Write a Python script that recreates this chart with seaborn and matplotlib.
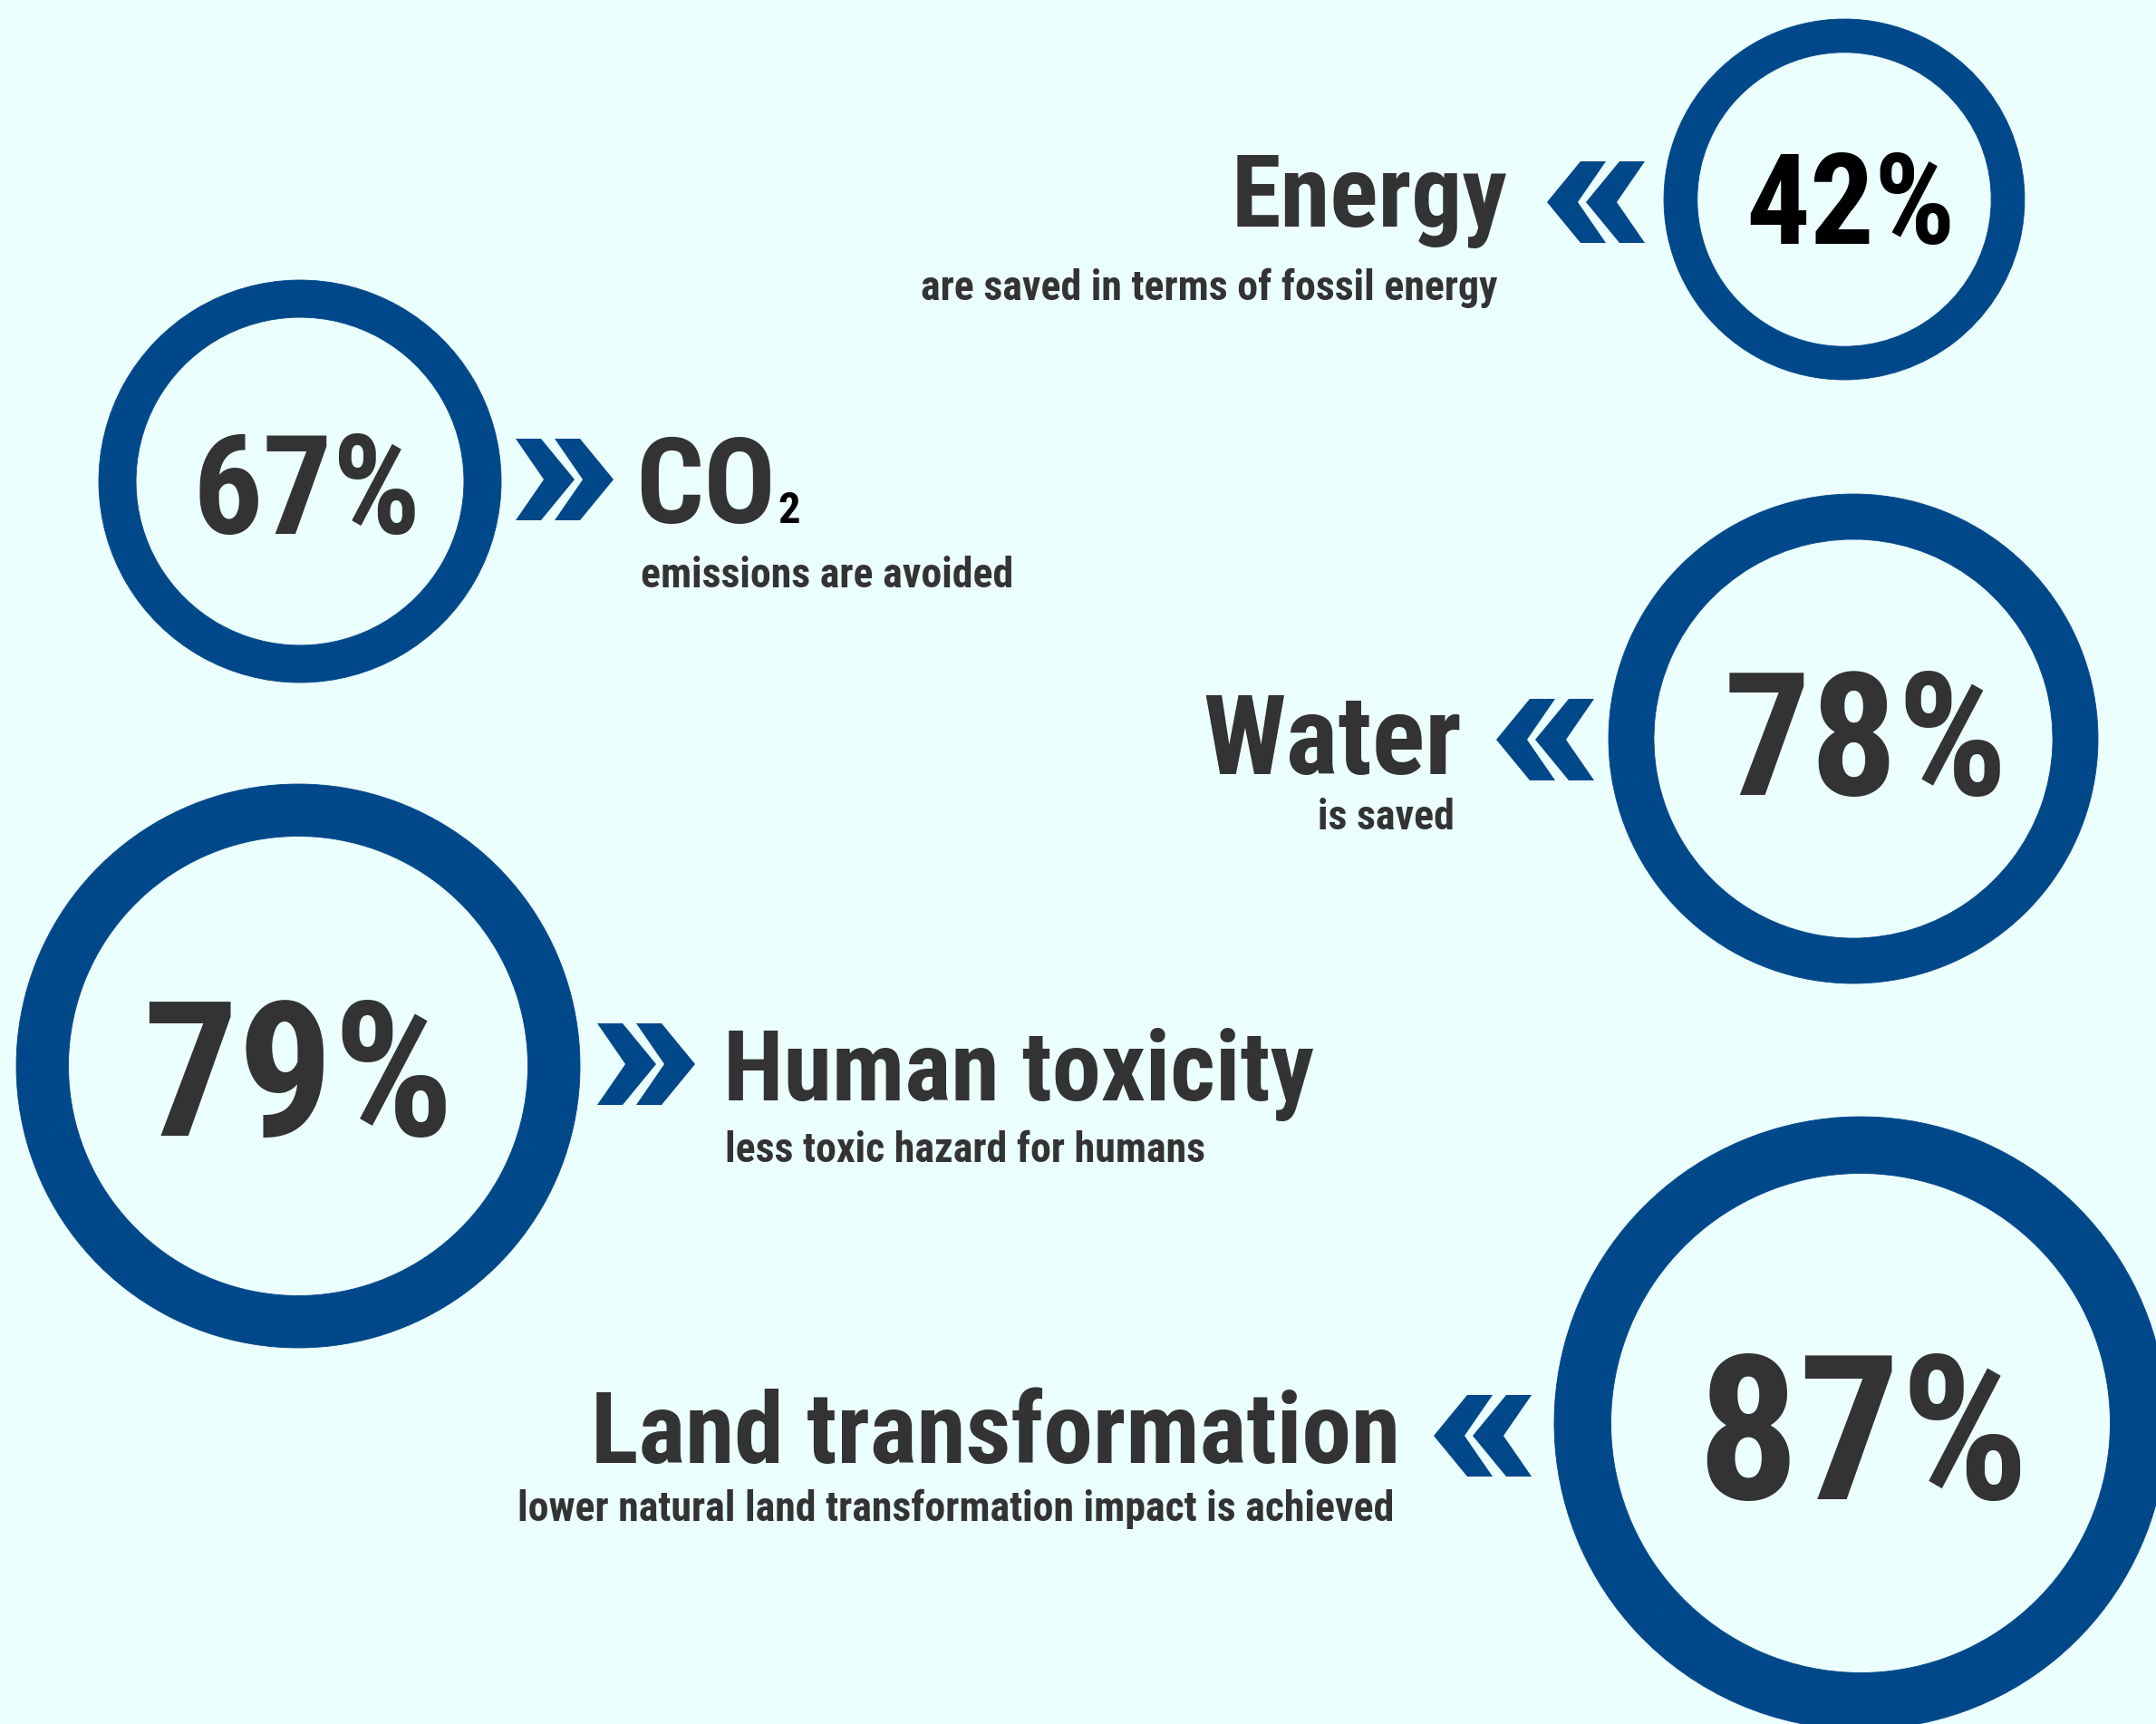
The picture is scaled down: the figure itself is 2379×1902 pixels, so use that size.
import matplotlib
matplotlib.use("Agg")
import matplotlib.pyplot as plt
import matplotlib.font_manager as fm
from matplotlib.patches import Polygon
import seaborn as sns

# ---------------- data ----------------
values = [42, 67, 78, 79, 87]
titles = ["Energy", "CO", "Water", "Human toxicity", "Land transformation"]
subtitles = ["are saved in terms of fossil energy",
             "emissions are avoided",
             "is saved",
             "less toxic hazard for humans",
             "lower natural land transformation impact is achieved"]
value_colors = ["#000000", "#333333", "#333333", "#333333", "#333333"]

# ---------------- style ----------------
BG = "#ECFFFF"
BLUE = "#01488A"
DARK = "#333333"

sns.set_theme(style="white", rc={"figure.facecolor": BG, "axes.facecolor": BG})
avail = {f.name for f in fm.fontManager.ttflist}
FONT = "DejaVu Sans"
for cand in ["Liberation Sans Narrow", "Roboto Condensed", "DejaVu Sans Condensed",
             "Liberation Sans"]:
    if cand in avail:
        FONT = cand
        break
plt.rcParams["font.family"] = [FONT, "DejaVu Sans"]

W, H = 2379, 1902
fig = plt.figure(figsize=(W / 100, H / 100), dpi=100)
ax = fig.add_axes([0, 0, 1, 1])

# layout (pixel space): ring centre x, y, outer radius
rings = [(2035, 220, 199), (331, 531, 222), (2045, 815, 270),
         (329, 1176, 311), (2053, 1570, 338)]
RING_FRAC = 0.185

for v, (cx, cy, r) in zip(values, rings):
    ax.pie([v, 100 - v], radius=r, center=(cx, cy), startangle=90,
           counterclock=False, colors=[BLUE, BLUE],
           wedgeprops=dict(width=r * RING_FRAC, linewidth=0.6, edgecolor=BLUE),
           frame=True)

ax.set_xlim(0, W)
ax.set_ylim(H, 0)
ax.set_aspect("equal")
ax.axis("off")

# percentage labels: (x centre, baseline, size)
pct_pos = [(2042, 269, 101), (339, 589, 110), (2059, 877, 137),
           (329, 1253, 150), (2056, 1654, 160)]
for v, (x, y, s), c in zip(values, pct_pos, value_colors):
    ax.text(x, y, f"{v}%", ha="center", va="baseline", fontsize=s,
            fontweight="bold", color=c)

# titles: (x, baseline, ha, size)
title_pos = [(1664, 250, "right", 80), (701, 577, "left", 95),
             (1613, 854, "right", 88), (798, 1214, "left", 78),
             (1545, 1614, "right", 79)]
title_artists = []
for t, (x, y, ha, s) in zip(titles, title_pos):
    title_artists.append(ax.text(x, y, t, ha=ha, va="baseline", fontsize=s,
                                 fontweight="bold", color=DARK))

# subscript 2 of CO2, placed right after "CO"
fig.canvas.draw()
bb = title_artists[1].get_window_extent(renderer=fig.canvas.get_renderer())
x_right = ax.transData.inverted().transform((bb.x1, bb.y0))[0]
ax.text(x_right + 3, 577, "2", ha="left", va="baseline", fontsize=35,
        fontweight="bold", color="#000000")

sub_pos = [(1652, 331, "right"), (707, 648, "left"), (1605, 915, "right"),
           (800, 1282, "left"), (1538, 1678, "right")]
for t, (x, y, ha) in zip(subtitles, sub_pos):
    ax.text(x, y, t, ha=ha, va="baseline", fontsize=33, fontweight="bold",
            color=DARK)


# chevrons (decoration)
def chevron(x0, yc, direction, h=90.0, w=107.0):
    s = h / 90.0
    sx = w / 107.0
    for off in (0, 43):
        pts = [(0, 0), (37, -45), (65, -45), (34, 0), (65, 45), (37, 45)]
        pts = [((px + off) * sx, py * s) for px, py in pts]
        if direction == "right":
            pts = [(w - px, py) for px, py in pts]
        pts = [(x0 + px, yc + py) for px, py in pts]
        ax.add_patch(Polygon(pts, closed=True, facecolor=BLUE, edgecolor="none"))


chev = [(1707, 223, "left"), (570, 529, "right"), (1651, 816, "left"),
        (660, 1174, "right"), (1582, 1584, "left")]
for x0, yc, d in chev:
    chevron(x0, yc, d)

ax.set_xlim(0, W)
ax.set_ylim(H, 0)
fig.savefig("out.png", dpi=100, facecolor=BG)
